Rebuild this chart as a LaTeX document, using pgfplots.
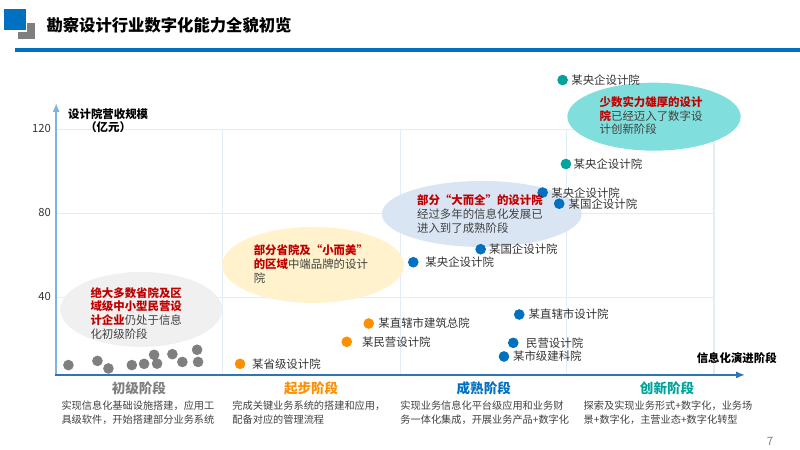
\documentclass[border=0pt]{standalone}
\usepackage{pgfplots}
\pgfplotsset{compat=1.18}
\usepackage{fontspec}
\setmainfont{Noto Sans CJK SC}
\usetikzlibrary{arrows.meta}
\definecolor{cblue}{HTML}{0070C0}
\definecolor{cgray}{HTML}{7F7F7F}
\definecolor{corange}{HTML}{FF8F00}
\definecolor{cteal}{HTML}{00A39B}
\definecolor{cred}{HTML}{C00000}
\definecolor{ctext}{HTML}{404040}
\definecolor{clab}{HTML}{333333}
\definecolor{gridc}{HTML}{E2EDF8}
\definecolor{yaxc}{HTML}{7FB4DF}
\definecolor{xaxc}{HTML}{2E75B6}
\definecolor{ellgray}{HTML}{F0F0F0}
\definecolor{ellyel}{HTML}{FFF2CC}
\definecolor{ellblue}{HTML}{DAE5F3}
\definecolor{ellteal}{HTML}{80DFDC}
\newcommand{\fs}[2]{\fontsize{#1}{#2}\selectfont}
\begin{document}
\begin{tikzpicture}
% ---------- background decorations in pixel coordinates ----------
\begin{scope}[yshift=9cm, x=0.02cm, y=-0.02cm]
  % title bar
  \fill[cgray] (18,23) rectangle (35,39);
  \filldraw[fill=cblue, draw=white, line width=0.6pt] (3,8) rectangle (26,31);
  \node[anchor=west, inner sep=0pt, font=\fs{9.3}{11}\bfseries, text=black] at (46,25) {勘察设计行业数字化能力全貌初览};
  \fill[cblue] (15,48.5) rectangle (800,52.5);
  % grid
  \begin{scope}[gridc, line width=0.6pt]
    \draw (56,297.6) -- (714,297.6);
    \draw (56,213.6) -- (714,213.6);
    \draw (56,129.6) -- (714,129.6);
    \draw (222,375) -- (222,129.6);
    \draw (400,375) -- (400,129.6);
    \draw (566,375) -- (566,129.6);
    \draw (714,375) -- (714,129.6);
  \end{scope}
  % ellipses
  \fill[ellgray] (141,309.5) ellipse [x radius=1.62cm, y radius=0.75cm];
  \fill[ellyel] (313,265) ellipse [x radius=1.82cm, y radius=0.76cm];
  \fill[ellblue] (481.7,214) ellipse [x radius=2.0cm, y radius=0.66cm];
  \fill[ellteal] (654,116.7) ellipse [x radius=1.734cm, y radius=0.68cm];
  % axes arrows
  \draw[yaxc, line width=1.1pt, -{Latex[length=5pt,width=4pt]}] (56,376) -- (56,103);
  \draw[xaxc, line width=1.0pt, -{Latex[length=5pt,width=4pt]}] (55,375) -- (745,375);
\end{scope}

% ---------- data ----------
\begin{axis}[at={(0,0)}, anchor=south west,
  width=16cm, height=9cm, scale only axis,
  xmin=0, xmax=800, ymin=-32.857, ymax=181.429,
  axis line style={draw=none},
  xtick=\empty, ytick={40,80,120},
  major tick length=0pt,
  /pgf/number format/assume math mode=true,
  yticklabel style={anchor=east, inner sep=0pt, xshift=1.02cm, font=\fs{6.4}{7}, text=clab},
  clip=false]
\addplot[only marks, mark=*, mark size=2.8pt, color=cgray] coordinates {
 (68.3,7.5) (97.3,9.5) (108.3,5.9) (131.7,7.5) (144,8.1) (154,12.4)
 (157,8.2) (172.3,12.7) (182.3,9.0) (197,14.8) (198,9.0)};
\addplot[only marks, mark=*, mark size=2.8pt, color=corange] coordinates {
 (240,8.1) (346.7,18.6) (368.7,27.3)};
\addplot[only marks, mark=*, mark size=2.8pt, color=cblue] coordinates {
 (413.3,56.5) (480.7,62.7) (542.7,89.7) (559.3,84.4) (519.3,31.6) (513.3,18.1) (504,11.6)};
\addplot[only marks, mark=*, mark size=2.8pt, color=cteal] coordinates {
 (562.7,143.3) (566,103.3)};
\end{axis}

% ---------- text ----------
\begin{scope}[yshift=9cm, x=0.02cm, y=-0.02cm]
  \begin{scope}[every node/.style={anchor=west, inner sep=0pt, font=\fs{6.5}{7.8}, text=clab}]
    \node at (251.7,364) {某省级设计院};
    \node at (361.7,342) {某民营设计院};
    \node at (378,323.7) {某直辖市建筑总院};
    \node at (425,262.3) {某央企设计院};
    \node at (488.7,249.3) {某国企设计院};
    \node at (551,192.7) {某央企设计院};
    \node at (568.3,203.7) {某国企设计院};
    \node at (528.3,314.7) {某直辖市设计院};
    \node at (525.7,343) {民营设计院};
    \node at (512.7,356.7) {某市级建科院};
    \node at (571,80) {某央企设计院};
    \node at (573.3,164) {某央企设计院};
  \end{scope}
  % ellipse texts
  \begin{scope}[every node/.style={anchor=north west, inner sep=0pt, align=left, font=\fs{6.5}{7.8}, text=ctext}]
    \node at (90,287) {{\color{cred}\bfseries 绝大多数省院及区}\\{\color{cred}\bfseries 域级中小型民营设}\\{\color{cred}\bfseries 计企业}仍处于信息\\化初级阶段};
    \node at (253.3,244.7) {{\color{cred}\bfseries 部分省院及“小而美”}\\{\color{cred}\bfseries 的区域}中端品牌的设计\\院};
    \node at (416.7,194.7) {{\color{cred}\bfseries 部分“大而全”的设计院}\\经过多年的信息化发展已\\进入到了成熟阶段};
    \node at (599.3,96.3) {{\color{cred}\bfseries 少数实力雄厚的设计}\\{\color{cred}\bfseries 院}已经迈入了数字设\\计创新阶段};
  \end{scope}
  % axis labels
  \node[anchor=north, inner sep=0pt, align=center, font=\fs{6.5}{7.6}\bfseries, text=black] at (108,108) {设计院营收规模\\（亿元）};
  \node[inner sep=0pt, font=\fs{6.5}{7.6}\bfseries, text=black] at (736.7,358.3) {信息化演进阶段};
  % stage labels
  \node[inner sep=0pt, font=\fs{7.7}{9}\bfseries, text=cgray] at (138.8,388) {初级阶段};
  \node[inner sep=0pt, font=\fs{7.7}{9}\bfseries, text=corange] at (311,388) {起步阶段};
  \node[inner sep=0pt, font=\fs{7.7}{9}\bfseries, text=cblue] at (483.7,388) {成熟阶段};
  \node[inner sep=0pt, font=\fs{7.7}{9}\bfseries, text=cteal] at (667,388) {创新阶段};
  % descriptions
  \begin{scope}[every node/.style={anchor=north west, inner sep=0pt, align=left, font=\fs{5.8}{7.5}, text=ctext}]
    \node at (61,401) {实现信息化基础设施搭建，应用工\\具级软件，开始搭建部分业务系统};
    \node at (232,401) {完成关键业务系统的搭建和应用，\\配备对应的管理流程};
    \node at (400,401) {实现业务信息化平台级应用和业务财\\务一体化集成，开展业务产品+数字化};
    \node at (583.3,401) {探索及实现业务形式+数字化，业务场\\景+数字化，主营业态+数字化转型};
  \end{scope}
  \node[inner sep=0pt, font=\fs{6.5}{7.5}, text=cgray] at (770,441.7) {7};
\end{scope}
\end{tikzpicture}
\end{document}
